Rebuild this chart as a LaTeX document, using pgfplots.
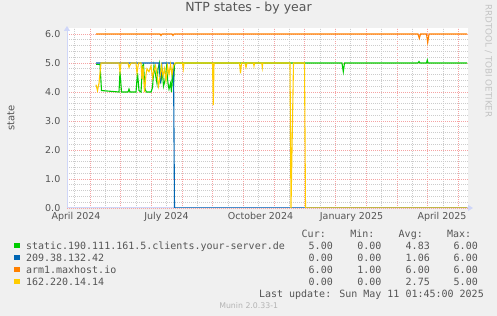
\documentclass[border=0pt]{standalone}
\usepackage{pgfplots}
\pgfplotsset{compat=1.18}
\usepackage{fontspec}
\setmainfont{DejaVu Sans}
\newfontfamily\monofont{DejaVu Sans Mono}
\usetikzlibrary{arrows.meta}
\definecolor{bg}{HTML}{F0F0F0}
\definecolor{txt}{HTML}{555555}
\definecolor{axiscol}{HTML}{CFD6F8}
\definecolor{mgrid}{HTML}{F5A3A3}
\definecolor{mingrid}{HTML}{CCCCCC}
\definecolor{cgreen}{HTML}{00CC00}
\definecolor{cblue}{HTML}{0066B3}
\definecolor{corange}{HTML}{FF8000}
\definecolor{cyellow}{HTML}{FFCC00}
\definecolor{wm}{HTML}{C4C4C4}
\definecolor{foot}{HTML}{B4B4B4}
\begin{document}
\begin{tikzpicture}
\fill[bg] (0bp,0bp) rectangle (497bp,316bp);
\begin{axis}[
 at={(67bp,108bp)}, anchor=south west,
 scale only axis, width=401bp, height=180bp,
 xmin=67, xmax=468, ymin=0, ymax=6.2069,
 axis background/.style={fill=white},
 axis x line*=bottom, axis y line*=left,
 x axis line style={draw=axiscol, line width=1bp, -{Triangle[length=5bp,width=6bp]}, shorten >=-5bp},
 y axis line style={draw=axiscol, line width=1bp, -{Triangle[length=5bp,width=6bp]}, shorten >=-2bp},
 xtick={90,120.69,151.38,182.07,212.76,243.45,274.14,304.83,335.52,366.21,396.9,427.59,458.28},
 xticklabel={\mbox{}},
 minor xtick={74.65,105.35,136.04,166.73,197.42,228.11,258.8,289.49,320.18,350.87,381.56,412.25,442.94},
 extra x ticks={76,166.5,260.5,351.5,442},
 extra x tick labels={April 2024,July 2024,October 2024,January 2025,April 2025},
 extra x tick style={grid=none, major tick length=0pt},
 ytick={0,1,2,3,4,5,6},
 yticklabels={0.0,1.0,2.0,3.0,4.0,5.0,6.0},
 minor y tick num=4,
 grid=both,
 major grid style={draw=mgrid, line width=0.8bp, dash pattern=on 1bp off 1bp},
 minor grid style={draw=mingrid, line width=0.8bp, dash pattern=on 1bp off 1bp},
 tick style={draw=none},
 xticklabel style={anchor=base, yshift=-11.5bp, inner sep=0pt, text=txt, font=\fontsize{9.5bp}{11bp}\selectfont},
 yticklabel style={anchor=east, inner sep=0pt, xshift=-6.5bp, text=txt, font=\fontsize{9.5bp}{11bp}\selectfont},
 /pgf/number format/assume math mode=true,
 ylabel={state},
 ylabel style={at={(axis description cs:-0.1397,0.5)}, anchor=center, inner sep=0pt, text=txt, font=\fontsize{10bp}{12bp}\selectfont},
 title={NTP states - by year},
 title style={at={(axis description cs:0.4526,1)}, anchor=base, yshift=10.1bp, inner sep=0pt, text=txt, font=\fontsize{12.5bp}{14bp}\selectfont},
 every axis plot/.append style={line width=1.1bp, no markers},
]
% static.190.111.161.5.clients.your-server.de
\addplot[cgreen] coordinates {
(96,4.95) (100,4.95) (101.5,4.05) (119,4.0) (120,4.7) (121.5,4.0) (128,4.0) (129,4.1) (130,4.0)
(136,4.0) (137.5,4.65) (139,4.05) (141,4.0) (142.5,4.9) (143.5,4.95) (145,4.1) (146.5,4.0)
(151,4.0) (152.5,4.15) (154,4.9) (155.5,4.6) (157,4.3) (158,4.8) (159.5,5.0) (161,4.4)
(162.5,4.7) (163.5,4.2) (165,4.4) (166.5,4.85) (168,4.3) (169,4.1) (170.5,4.3) (171.5,4.0)
(172.5,4.8) (173.5,4.2) (174.5,4.95) (176,5.0) (342,5.0) (343.3,4.7) (344.5,5.0)
(418,5.0) (419,5.05) (420,5.0) (426.5,5.0) (427.3,5.1) (428,5.0) (467,5.0)};
% 209.38.132.42
\addplot[cblue] coordinates {
(96,5) (159,5) (160.5,4.3) (162,5) (173.5,5) (174.5,0) (467,0)};
% arm1.maxhost.io
\addplot[corange] coordinates {
(96,6) (160,6) (161,5.95) (162,6) (172,6) (173,5.95) (174,6) (418,6) (419.3,5.85) (420.5,6)
(426.5,6) (427.7,5.7) (429,6) (467,6)};
% 162.220.14.14
\addplot[cyellow] coordinates {
(96,4.25) (97.5,4.05) (99,4.3) (101,5.0) (119,5.0) (120,4.7) (121,5.0) (128,5.0) (129,4.85)
(131,5.0) (136,5.0) (137,4.65) (138.5,5.0) (141,5.0) (142,4.45) (143,4.9) (144.5,4.0)
(146,4.6) (147,4.8) (149,4.7) (151,4.9) (152.5,4.5) (154,4.75) (155.5,4.9) (157,4.6)
(158.5,4.2) (160,4.5) (161.5,4.9) (163,4.55) (164.5,4.8) (166,4.4) (167.5,4.9) (169,4.6)
(170.5,4.95) (172,4.6) (173.5,4.9) (175,5.0) (182.5,5.0) (183.3,4.8) (184,5.0) (212.5,5.0)
(213.3,3.55) (214,5.0) (239.5,5.0) (240.5,4.64) (241.5,5.0) (245,5.0) (246,4.85) (247,5.0)
(253.5,5.0) (254,4.9) (254.5,5.0) (261.8,5.0) (262.3,4.85) (262.8,5.0) (290,5.0) (291,0)
(293.5,5.0) (304.5,5.0) (305.5,0) (467,0)};
\end{axis}
\tikzset{lg/.style={inner sep=0pt, text=txt, font=\monofont\fontsize{10bp}{12bp}\selectfont}}
% legend header
\node[lg, anchor=base east] at (326bp,78.8bp) {Cur:};
\node[lg, anchor=base east] at (374.7bp,78.8bp) {Min:};
\node[lg, anchor=base east] at (423bp,78.8bp) {Avg:};
\node[lg, anchor=base east] at (471.3bp,78.8bp) {Max:};
% rows
\fill[cgreen] (14bp,67.6bp) rectangle (19.6bp,73.2bp);
\fill[cblue] (14bp,55.6bp) rectangle (19.6bp,61.2bp);
\fill[corange] (14bp,43.6bp) rectangle (19.6bp,49.2bp);
\fill[cyellow] (14bp,31.6bp) rectangle (19.6bp,37.2bp);
\node[lg, anchor=base west] at (25.8bp,66.8bp) {static.190.111.161.5.clients.your-server.de};
\node[lg, anchor=base west] at (25.8bp,54.8bp) {209.38.132.42};
\node[lg, anchor=base west] at (25.8bp,42.8bp) {arm1.maxhost.io};
\node[lg, anchor=base west] at (25.8bp,30.8bp) {162.220.14.14};
\foreach \y/\a/\b/\c/\d in {66.8/5.00/0.00/4.83/6.00, 54.8/0.00/0.00/1.06/6.00, 42.8/6.00/1.00/6.00/6.00, 30.8/0.00/0.00/2.75/5.00}{
 \node[lg, anchor=base east] at (333bp,\y bp) {\a};
 \node[lg, anchor=base east] at (381.7bp,\y bp) {\b};
 \node[lg, anchor=base east] at (430bp,\y bp) {\c};
 \node[lg, anchor=base east] at (478bp,\y bp) {\d};
}
\node[lg, anchor=base east] at (484bp,18.8bp) {Last update: Sun May 11 01:45:00 2025};
\node[inner sep=0pt, anchor=base, text=foot, font=\fontsize{7.8bp}{9bp}\selectfont] at (248.7bp,7.7bp) {Munin 2.0.33-1};
\node[inner sep=0pt, rotate=-90, anchor=center, text=wm, font=\fontsize{8.8bp}{10bp}\selectfont] at (488.5bp,255bp) {RRDTOOL / TOBI OETIKER};
\pgfresetboundingbox
\path[use as bounding box] (0bp,0bp) rectangle (497bp,316bp);
\end{tikzpicture}
\end{document}
